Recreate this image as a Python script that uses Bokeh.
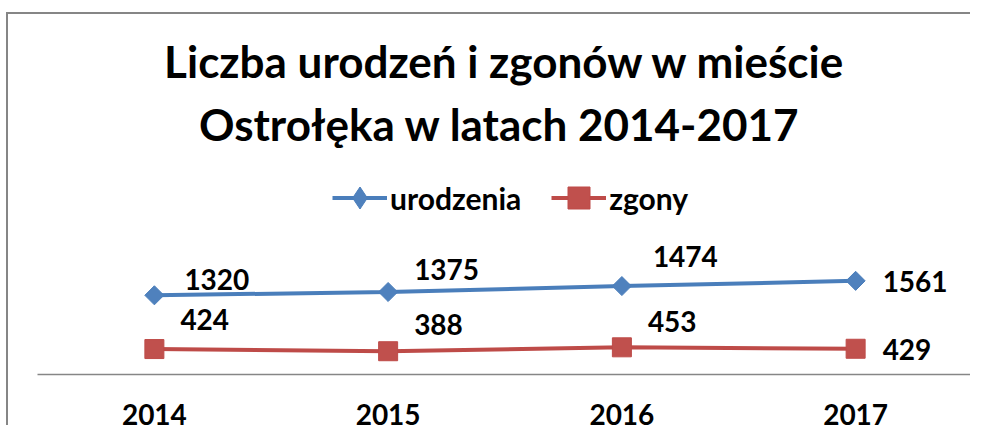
from bokeh.plotting import figure
from bokeh.models import ColumnDataSource, Range1d, FactorRange, Label, Legend, LegendItem
from bokeh.core.properties import value
from bokeh.embed import file_html
from bokeh.resources import INLINE
import math

# ---- data ----
years = ["2014", "2015", "2016", "2017"]
urodzenia = [1320, 1375, 1474, 1561]
zgony = [424, 388, 453, 429]
title_lines = ["Liczba urodzeń i zgonów w mieście", "Ostrołęka  w latach 2014-2017"]
series_names = ["urodzenia", "zgony"]

# ---- styling / layout ----
FONT = "Lato"
BLUE_LINE, BLUE_FILL = "#4A7EBB", "#4F81BD"
RED_LINE, RED_FILL = "#BE4B48", "#C0504D"
W, H = 964, 413
LEFT, RIGHT, BOTTOM = 29, 0, 53
FRAME_H = H - BOTTOM
PX_PER_UNIT = 0.06
Y_END = FRAME_H / PX_PER_UNIT
BASE_FIX = 0.38  # empirical baseline correction (fraction of font size)

LABEL_SIZE = 28
TITLE_SIZE = 44


def canvas_to_y(cy):
    return (FRAME_H - cy) / PX_PER_UNIT

# per-label offsets (pixels) for data labels: left edge / baseline relative to the point
u_dx = [30, 26, 31, 27]
u_dy = [-5, -12, -19, 11]
z_dx = [26, 26, 26, 27]
z_dy = [-19, -16, -15, 11]
fix = BASE_FIX * LABEL_SIZE

p = figure(width=W, height=H, x_range=FactorRange(*years), y_range=Range1d(0, Y_END),
           output_backend="svg", toolbar_location=None,
           min_border_left=LEFT, min_border_right=RIGHT, min_border_top=0,
           min_border_bottom=BOTTOM)
p.styles = {"margin-left": "6px", "margin-top": "12px",
            "border-left": "2px solid #868686", "border-top": "2px solid #868686"}
p.outline_line_color = None
p.grid.visible = False
p.yaxis.visible = False
p.background_fill_color = "white"
p.border_fill_color = "white"

xa = p.xaxis[0]
xa.axis_line_color = "#868686"
xa.axis_line_width = 1.5
xa.major_tick_line_color = None
xa.minor_tick_line_color = None
xa.major_tick_out = 0
xa.major_tick_in = 0
xa.major_label_standoff = 29
xa.major_label_text_line_height = 0.8
xa.major_label_text_font = FONT
xa.major_label_text_font_style = "bold"
xa.major_label_text_font_size = f"{LABEL_SIZE}px"
xa.major_label_text_color = "black"

src_u = ColumnDataSource(dict(x=years, y=urodzenia, t=[str(v) for v in urodzenia],
                              dx=u_dx, dy=[d - fix for d in u_dy]))
src_z = ColumnDataSource(dict(x=years, y=zgony, t=[str(v) for v in zgony],
                              dx=z_dx, dy=[d - fix for d in z_dy]))

lu = p.line("x", "y", source=src_u, line_color=BLUE_LINE, line_width=4)
mu = p.scatter("x", "y", source=src_u, marker="square", angle=math.pi / 4, size=13.5,
               fill_color=BLUE_FILL, line_color=BLUE_LINE, line_width=1)
lz = p.line("x", "y", source=src_z, line_color=RED_LINE, line_width=4)
mz = p.scatter("x", "y", source=src_z, marker="square", size=19,
               fill_color=RED_FILL, line_color=RED_LINE, line_width=1)
# zero-size diamond used only for the legend symbol (legend markers are drawn unrotated)
mu_leg = p.scatter("x", "y", source=src_u, marker="diamond", size=0,
                   fill_color=BLUE_FILL, line_color=BLUE_LINE, line_width=1)

for s in (src_u, src_z):
    p.text("x", "y", text="t", source=s, x_offset="dx", y_offset="dy",
           text_font=value(FONT), text_font_style="bold", text_font_size=f"{LABEL_SIZE}px",
           text_color="black", text_align="left", text_baseline="alphabetic")

# title (baselines at canvas y 63 and 126)
for line, cy in zip(title_lines, [63, 126]):
    p.add_layout(Label(x=2.0, y=canvas_to_y(cy - BASE_FIX * TITLE_SIZE), text=line,
                       text_align="center", text_baseline="alphabetic", text_font=FONT,
                       text_font_style="bold", text_font_size=f"{TITLE_SIZE}px",
                       text_color="black"))

legend = Legend(items=[LegendItem(label=series_names[0], renderers=[lu, mu_leg]),
                       LegendItem(label=series_names[1], renderers=[lz, mz])],
                orientation="horizontal", location=(295, 149),
                glyph_width=55, glyph_height=55, label_standoff=3, spacing=30,
                padding=0, margin=0, border_line_alpha=0, background_fill_alpha=0,
                label_text_font=FONT, label_text_font_style="bold",
                label_text_font_size="30px", label_text_color="black")
p.add_layout(legend)

open("out.html", "w").write(file_html(p, INLINE))
